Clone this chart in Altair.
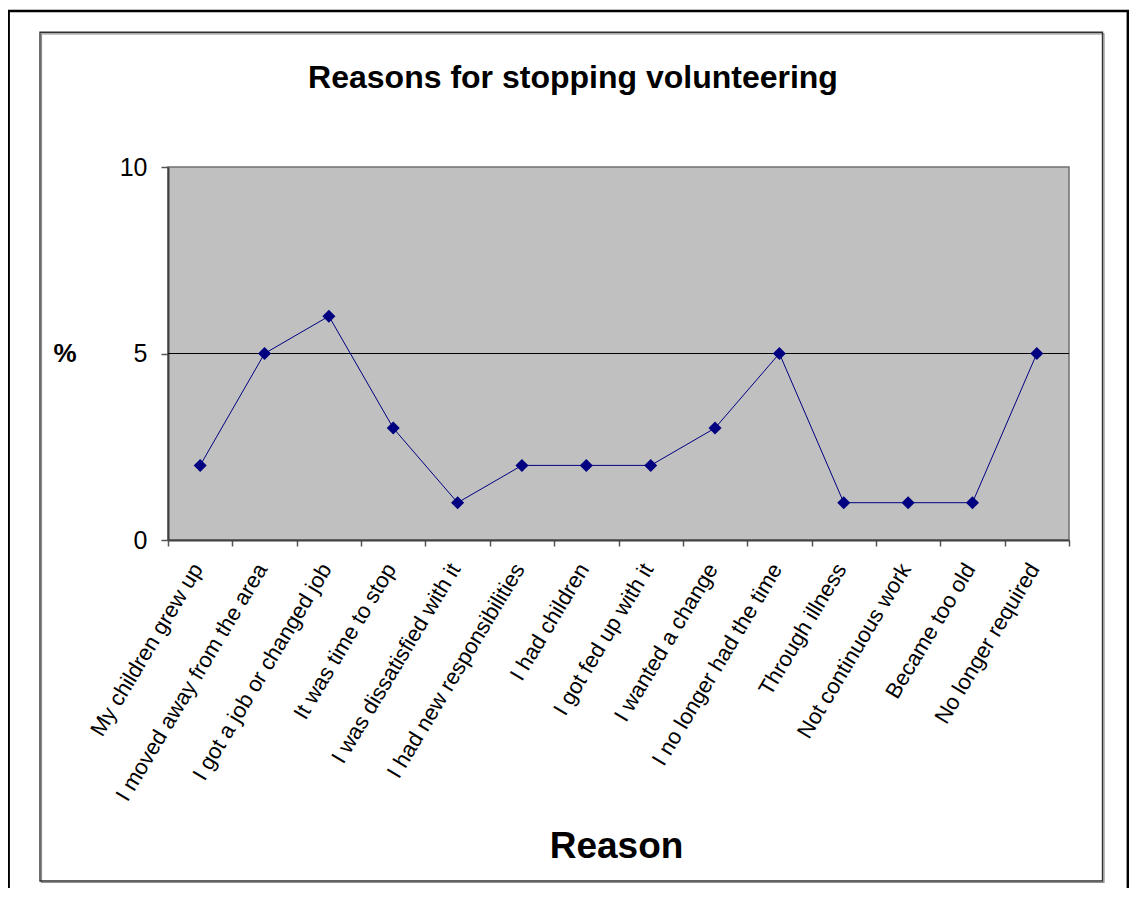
import altair as alt
import pandas as pd

reasons = [
    "My children grew up",
    "I moved away from the area",
    "I got a job or changed job",
    "It was time to stop",
    "I was dissatisfied with it",
    "I had new responsibilities",
    "I had children",
    "I got fed up with it",
    "I wanted a change",
    "I no longer had the time",
    "Through illness",
    "Not continuous work",
    "Became too old",
    "No longer required",
]
percent = [2, 5, 6, 3, 1, 2, 2, 2, 3, 5, 1, 1, 1, 5]
y_ticks = [0, 5, 10]
grid_values = [5]

FONT = "Liberation Sans"
NAVY = "#000080"

df = pd.DataFrame({"reason": reasons, "pct": percent})

x_enc = alt.X(
    "reason:N",
    sort=reasons,
    bandPosition=0.5,
    scale=alt.Scale(type="band", paddingInner=0, paddingOuter=0),
    title="Reason",
    axis=alt.Axis(
        tickBand="extent",
        tickSize=6,
        tickWidth=1.5,
        tickColor="#555555",
        domainColor="#404040",
        domainWidth=2,
        labelAngle=-59,
        labelAlign="right",
        labelBaseline="middle",
        labelFontSize=22,
        labelFont=FONT,
        labelColor="black",
        labelPadding=19,
        labelOffset=-3,
        labelLimit=500,
        labelOverlap=False,
        labelFlush=False,
        titleFont=FONT,
        titleFontSize=37,
        titleFontWeight="bold",
        titleColor="black",
        titleX=448,
        titleY=317,
        titleBaseline="alphabetic",
        grid=False,
    ),
)

y_enc = alt.Y(
    "pct:Q",
    scale=alt.Scale(domain=[0, 10], nice=False, zero=True),
    title="%",
    axis=alt.Axis(
        values=y_ticks,
        grid=False,
        tickSize=7,
        tickWidth=1.5,
        tickColor="#555555",
        domainColor="#404040",
        domainWidth=2,
        labelFontSize=25,
        labelFont=FONT,
        labelColor="black",
        labelPadding=14,
        titleFont=FONT,
        titleFontSize=26,
        titleFontWeight="bold",
        titleColor="black",
        titleAngle=0,
        titleAlign="center",
        titleBaseline="middle",
        titleX=-103.5,
        titleY=186,
    ),
)

base = alt.Chart(df)

grid = alt.Chart(pd.DataFrame({"pct": grid_values})).mark_rule(
    color="black", strokeWidth=1
).encode(y=alt.Y("pct:Q", title="%"))

line = base.mark_line(color=NAVY, strokeWidth=1).encode(x=x_enc, y=y_enc)
pts = base.mark_point(
    shape="diamond", filled=True, size=170, color=NAVY, opacity=1, strokeWidth=0
).encode(x=x_enc, y=y_enc)

one = alt.Data(values=[{"k": 0}])
inner_shadow = alt.Chart(one).mark_rect(
    filled=False, stroke="#909090", strokeWidth=1.2
).encode(
    x=alt.value(-126.5), x2=alt.value(936), y=alt.value(-133.2), y2=alt.value(715.5)
)
inner_frame = alt.Chart(one).mark_rect(
    filled=False, stroke="#303030", strokeWidth=1.4
).encode(
    x=alt.value(-128), x2=alt.value(934.5), y=alt.value(-134.7), y2=alt.value(714)
)
outer_frame = alt.Chart(one).mark_rect(
    filled=False, stroke="black", strokeWidth=2.4
).encode(
    x=alt.value(-159.3), x2=alt.value(959.8), y=alt.value(-156), y2=alt.value(900)
)

chart = (
    alt.layer(grid, line, pts, inner_shadow, inner_frame, outer_frame)
    .properties(
        width=901,
        height=373,
        padding={"left": 160, "top": 159, "right": 60, "bottom": 348},
        autosize=alt.AutoSizeParams(type="none"),
        title=alt.TitleParams(
            "Reasons for stopping volunteering",
            font=FONT,
            fontSize=32,
            fontWeight="bold",
            color="black",
            anchor="middle",
            dx=-45.5,
            dy=89,
        ),
        background="white",
    )
    .configure_view(fill="#C0C0C0", stroke="#707070", strokeWidth=1.5)
)

chart.save("out.html", embed_options={"renderer": "svg", "actions": False})
